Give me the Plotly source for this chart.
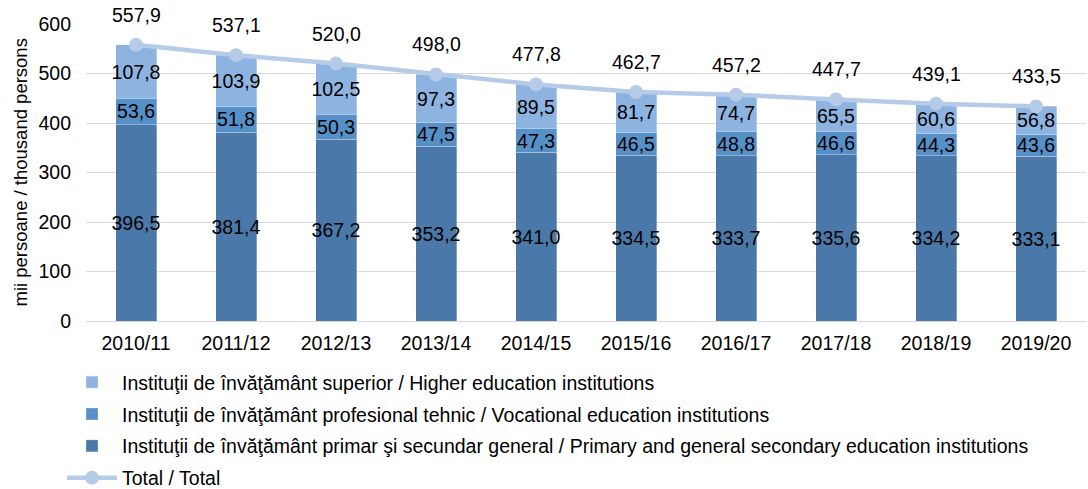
import plotly.graph_objects as go

categories = ["2010/11", "2011/12", "2012/13", "2013/14", "2014/15",
              "2015/16", "2016/17", "2017/18", "2018/19", "2019/20"]
primary = [396.5, 381.4, 367.2, 353.2, 341.0, 334.5, 333.7, 335.6, 334.2, 333.1]
vocational = [53.6, 51.8, 50.3, 47.5, 47.3, 46.5, 48.8, 46.6, 44.3, 43.6]
higher = [107.8, 103.9, 102.5, 97.3, 89.5, 81.7, 74.7, 65.5, 60.6, 56.8]
total = [557.9, 537.1, 520.0, 498.0, 477.8, 462.7, 457.2, 447.7, 439.1, 433.5]

names = {
    "higher": "Instituţii de învăţământ superior / Higher education institutions",
    "vocational": "Instituţii de învăţământ profesional tehnic / Vocational education institutions",
    "primary": "Instituţii de învăţământ primar şi secundar general / Primary and general secondary education institutions",
    "total": "Total / Total",
}
y_title = "mii persoane / thousand persons"

FONT = "Liberation Sans, Arial, sans-serif"
FS = 19.5
fig = go.Figure()

def add_bar(vals, name, color, rank):
    fig.add_trace(go.Bar(
        x=categories, y=vals, name=name,
        marker=dict(color=color, line=dict(color="rgba(255,255,255,0.6)", width=0.5)),
        width=0.41, texttemplate="%{y:.1f}", textposition="inside", insidetextanchor="middle",
        textangle=0, constraintext="none", textfont=dict(color="black", size=FS, family=FONT),
        legendrank=rank, legendgroup=name,
    ))

add_bar(primary, names["primary"], "#4a79a9", 3)
add_bar(vocational, names["vocational"], "#5690c9", 2)
add_bar(higher, names["higher"], "#8db3e1", 1)

fig.add_trace(go.Scatter(
    x=categories, y=total, name=names["total"], mode="lines+markers",
    line=dict(color="#b6cbe8", width=4.5), marker=dict(size=14, color="#b6cbe8"),
    legendrank=4, legendgroup="total",
))

for c, t in zip(categories, total):
    fig.add_annotation(x=c, y=t, text=f"{t:.1f}".replace(".", ","), showarrow=False,
                       yshift=30, font=dict(size=FS, color="black", family=FONT))

fig.add_annotation(text=y_title, xref="paper", yref="paper", x=-0.066, y=0.5,
                   textangle=-90, showarrow=False, xanchor="center", yanchor="middle",
                   font=dict(size=18.5, color="black", family=FONT))

fig.update_layout(
    width=1088, height=489, barmode="stack", separators=", ",
    plot_bgcolor="white", paper_bgcolor="white",
    margin=dict(l=86, r=2, t=24, b=168, autoexpand=False),
    font=dict(family=FONT, size=FS, color="black"),
    legend=dict(orientation="v", xref="container", yref="container",
                x=62 / 1088, xanchor="left", y=1 - 363 / 489, yanchor="top",
                traceorder="grouped", tracegroupgap=3.5, font=dict(size=FS),
                itemwidth=50),
    showlegend=True,
)
fig.update_yaxes(range=[0, 600], dtick=100, showgrid=True, gridcolor="#d9d9d9", gridwidth=1,
                 zeroline=False, showline=False, tickfont=dict(size=FS), automargin=False,
                 ticklabelstandoff=14)
fig.update_xaxes(range=[-0.5, len(categories) - 0.5], showline=True, linecolor="#d9d9d9",
                 linewidth=1, tickfont=dict(size=FS), ticks="", automargin=False,
                 ticklabelstandoff=5)

fig.write_html("out.html", config={"displayModeBar": False},
               post_script="document.body.style.margin='0';document.body.style.overflow='hidden';")
